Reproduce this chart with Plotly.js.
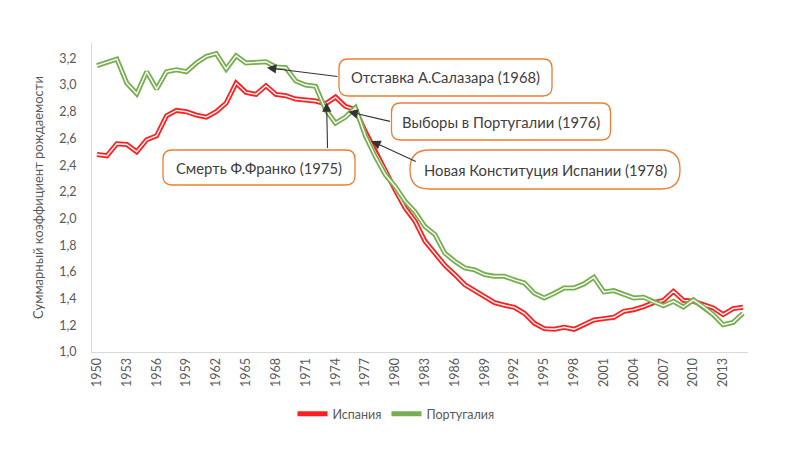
<!DOCTYPE html>
<html>
<head>
<meta charset="utf-8">
<script src="https://cdn.plot.ly/plotly-3.0.1.min.js"></script>
<style>html,body{margin:0;padding:0;background:#fff;}#chart{width:800px;height:451px;}</style>
</head>
<body>
<div id="chart"></div>
<script>
// ---- data ----
const years = [];
for (let y = 1950; y <= 2015; y++) years.push(y);

const spain = [
  2.48, 2.47, 2.56, 2.555, 2.50, 2.59, 2.62, 2.77, 2.81, 2.80,
  2.775, 2.76, 2.80, 2.865, 3.015, 2.945, 2.93, 2.995, 2.93, 2.92,
  2.895, 2.89, 2.88, 2.86, 2.91, 2.84, 2.815, 2.65, 2.50, 2.365,
  2.215, 2.08, 1.98, 1.83, 1.74, 1.65, 1.58, 1.505, 1.46, 1.415,
  1.37, 1.35, 1.335, 1.29, 1.215, 1.175, 1.17, 1.185, 1.17, 1.205,
  1.24, 1.25, 1.26, 1.305, 1.317, 1.34, 1.37, 1.387, 1.455, 1.387,
  1.38, 1.355, 1.33, 1.28, 1.325, 1.335
];
const portugal = [
  3.145, 3.17, 3.195, 3.015, 2.935, 3.10, 2.97, 3.10, 3.115, 3.10,
  3.165, 3.215, 3.235, 3.12, 3.22, 3.165, 3.17, 3.175, 3.135, 3.13,
  3.03, 3.00, 2.99, 2.815, 2.715, 2.76, 2.83, 2.62, 2.465, 2.33,
  2.24, 2.13, 2.05, 1.94, 1.88, 1.74, 1.68, 1.63, 1.615, 1.58,
  1.567, 1.567, 1.54, 1.517, 1.44, 1.405, 1.44, 1.48, 1.48, 1.51,
  1.56, 1.45, 1.46, 1.435, 1.405, 1.41, 1.375, 1.347, 1.38, 1.337,
  1.39, 1.34, 1.28, 1.205, 1.222, 1.29
];
const seriesNames = ["Испания", "Португалия"];
const tickYears = [];
for (let y = 1950; y <= 2013; y += 3) tickYears.push(y);
const tickLabels = tickYears.map(String);

// events: [text, headYear, headValue]
const eventTexts = [
  "Отставка А.Салазара (1968)",
  "Выборы в Португалии (1976)",
  "Смерть Ф.Франко (1975)",
  "Новая Конституция Испании (1978)"
];
const eventHeadYears = [1967.1, 1975.3, 1973.1, 1977.6];
const eventHeadValues = [3.13, 2.80, 2.87, 2.58];

// ---- layout geometry ----
const W = 800, H = 451;
const M = {l: 92, r: 52, t: 43, b: 99};
const PW = W - M.l - M.r, PH = H - M.t - M.b;
const px2paperX = px => (px - M.l) / PW;
const px2paperY = py => (H - M.b - py) / PH;

function roundRect(cx, cy, w, h, r) {
  const x0 = cx - w/2, x1 = cx + w/2, y0 = cy - h/2, y1 = cy + h/2;
  const X = px2paperX, Y = px2paperY;
  return `M${X(x0+r)},${Y(y0)} L${X(x1-r)},${Y(y0)} Q${X(x1)},${Y(y0)} ${X(x1)},${Y(y0+r)} ` +
         `L${X(x1)},${Y(y1-r)} Q${X(x1)},${Y(y1)} ${X(x1-r)},${Y(y1)} ` +
         `L${X(x0+r)},${Y(y1)} Q${X(x0)},${Y(y1)} ${X(x0)},${Y(y1-r)} ` +
         `L${X(x0)},${Y(y0+r)} Q${X(x0)},${Y(y0)} ${X(x0+r)},${Y(y0)} Z`;
}

// box placement (pixels): center x, center y, width, height, radius
const boxes = [
  [445.5, 77.5, 213, 37, 9],
  [501, 121.5, 219, 37, 9],
  [259, 167.5, 192, 35, 9],
  [545, 169.5, 270, 39, 19]
];
// arrow tail offsets (pixels from head)
const arrowOffsets = [[72, 9], [43, 10], [1, 47], [46, 21]];

const RED = "#FF1F1F", GREEN = "#77AE50";
const traces = [
  {x: years, y: spain, name: seriesNames[0], mode: "lines", line: {color: RED, width: 5}, hoverinfo: "skip"},
  {x: years, y: spain, mode: "lines", line: {color: "#ffffff", width: 1.4}, showlegend: false, hoverinfo: "skip"},
  {x: years, y: portugal, name: seriesNames[1], mode: "lines", line: {color: GREEN, width: 5}, hoverinfo: "skip"},
  {x: years, y: portugal, mode: "lines", line: {color: "#ffffff", width: 1.4}, showlegend: false, hoverinfo: "skip"}
];

const shapes = boxes.map(b => ({
  type: "path", xref: "paper", yref: "paper", path: roundRect(b[0], b[1], b[2], b[3], b[4]),
  line: {color: "#ED7D31", width: 1.3}, fillcolor: "#ffffff", layer: "above"
}));

const annotations = [];
eventTexts.forEach((t, i) => {
  annotations.push({
    xref: "x", yref: "y", x: eventHeadYears[i], y: eventHeadValues[i], text: "",
    showarrow: true, ax: arrowOffsets[i][0], ay: arrowOffsets[i][1],
    arrowhead: 2, arrowsize: 1.7, arrowwidth: 1.1, arrowcolor: "#333333"
  });
});
eventTexts.forEach((t, i) => {
  annotations.push({
    xref: "paper", yref: "paper", x: px2paperX(boxes[i][0]), y: px2paperY(boxes[i][1]),
    xanchor: "center", yanchor: "middle", text: t, showarrow: false,
    font: {family: "Lato, 'Open Sans', sans-serif", size: 14.8, color: "#404040"}
  });
});

const layout = {
  width: W, height: H,
  margin: M,
  paper_bgcolor: "#ffffff", plot_bgcolor: "#ffffff",
  separators: ", ",
  font: {family: "Lato, 'Open Sans', sans-serif", color: "#595959", size: 12},
  showlegend: true,
  legend: {orientation: "h", x: px2paperX(396), xanchor: "center", y: px2paperY(414), yanchor: "middle",
           itemwidth: 30, font: {size: 12.5, color: "#595959"}, bgcolor: "rgba(0,0,0,0)"},
  xaxis: {
    range: [1949.5, 2015.5], tickvals: tickYears, ticktext: tickLabels, tickangle: -90,
    showgrid: false, zeroline: false, showline: true, linecolor: "#D9D9D9", linewidth: 1,
    ticks: "", tickfont: {size: 12.5, color: "#595959"}, fixedrange: true
  },
  yaxis: {
    range: [1.0, 3.315], tick0: 1.0, dtick: 0.2, tickformat: ".1f",
    showgrid: false, zeroline: false, showline: true, linecolor: "#D9D9D9", linewidth: 1,
    ticks: "", ticklabelstandoff: 12, tickfont: {size: 12.5, color: "#595959"},
    title: {text: "Суммарный коэффициент рождаемости", font: {size: 13, color: "#595959"}, standoff: 12},
    fixedrange: true
  },
  shapes: shapes,
  annotations: annotations
};

Plotly.newPlot("chart", traces, layout, {displayModeBar: false, staticPlot: true});
</script>
</body>
</html>
